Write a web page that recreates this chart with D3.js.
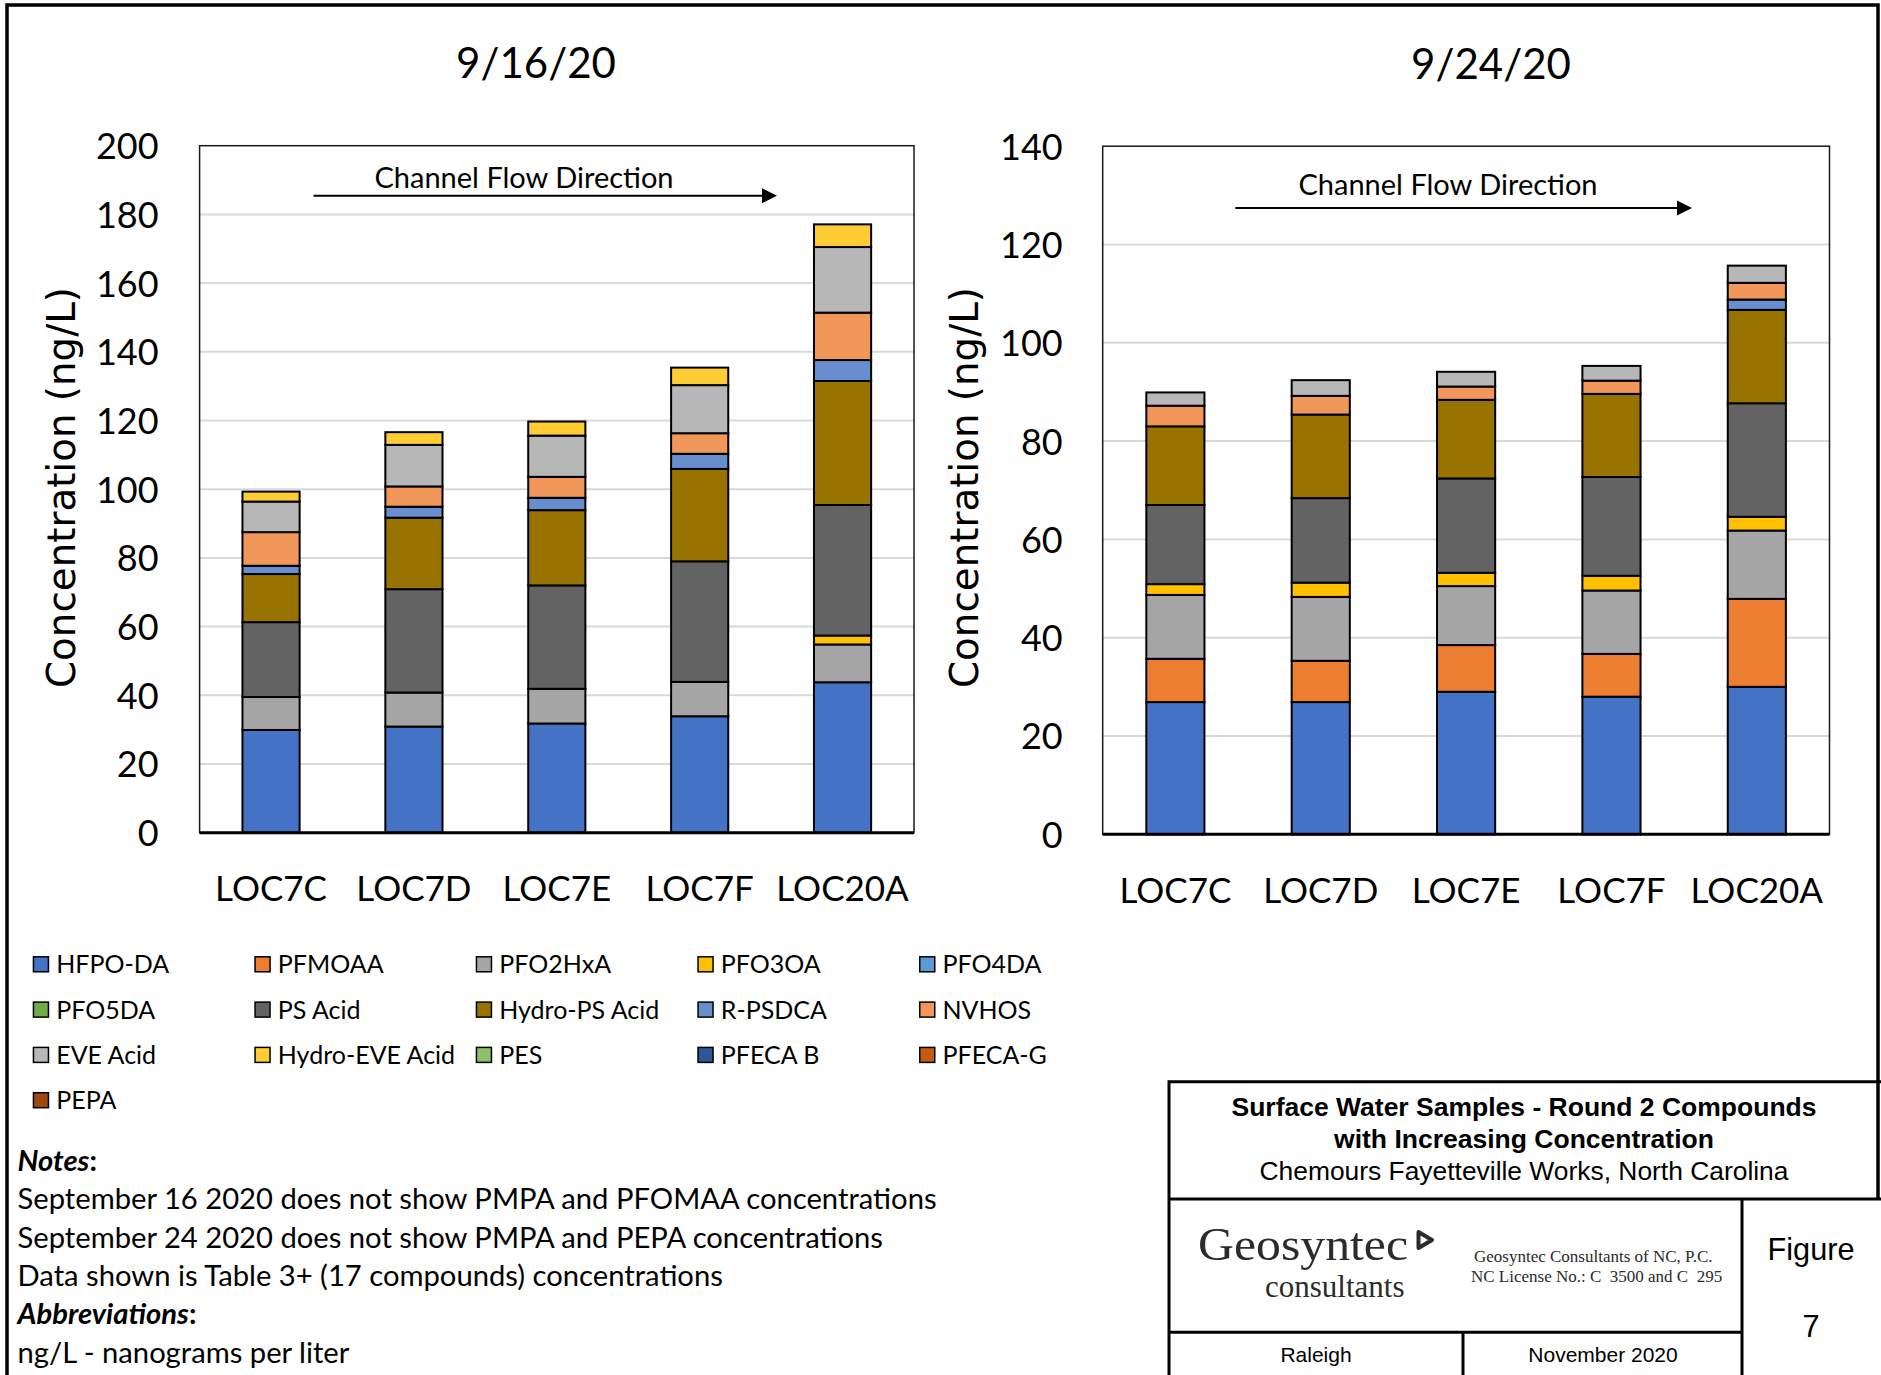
<!DOCTYPE html>
<html><head><meta charset="utf-8">
<script src="https://cdn.jsdelivr.net/npm/d3@7"></script>
<style>body{margin:0;background:#fff}svg{display:block}</style>
</head><body>
<svg id="c" width="1881" height="1375"></svg>
<script>
// ---------- DATA ----------
const categories = ["LOC7C", "LOC7D", "LOC7E", "LOC7F", "LOC20A"];
const compounds = ["HFPO-DA", "PFMOAA", "PFO2HxA", "PFO3OA", "PFO4DA", "PFO5DA", "PS Acid", "Hydro-PS Acid",
  "R-PSDCA", "NVHOS", "EVE Acid", "Hydro-EVE Acid", "PES", "PFECA B", "PFECA-G", "PEPA"];
const compoundColors = ["#4472C4", "#ED7D31", "#A5A5A5", "#FFC000", "#5B9BD5", "#70AD47", "#636363", "#997300",
  "#698ED0", "#F1975A", "#B7B7B7", "#FFCD33", "#8CC168", "#2F5597", "#C55A11", "#9E480E"];

// 9/16/20 concentrations (ng/L), one row per compound, columns follow categories
const sep16Values = [
  [29.9, 30.9, 31.8, 33.9, 43.8],   // HFPO-DA
  [0, 0, 0, 0, 0],                  // PFMOAA
  [9.6, 9.9, 10.1, 10.0, 11.0],     // PFO2HxA
  [0, 0, 0, 0, 2.6],                // PFO3OA
  [0, 0, 0, 0, 0],                  // PFO4DA
  [0, 0, 0, 0, 0],                  // PFO5DA
  [21.8, 30.1, 30.1, 35.1, 38.0],   // PS Acid
  [14.0, 20.8, 21.9, 26.9, 36.1],   // Hydro-PS Acid
  [2.4, 3.2, 3.6, 4.4, 6.1],        // R-PSDCA
  [9.8, 5.9, 6.1, 6.0, 13.8],       // NVHOS
  [8.9, 12.1, 12.0, 14.0, 19.1],    // EVE Acid
  [2.9, 3.7, 4.1, 5.1, 6.6],        // Hydro-EVE Acid
  [0, 0, 0, 0, 0],                  // PES
  [0, 0, 0, 0, 0],                  // PFECA B
  [0, 0, 0, 0, 0],                  // PFECA-G
  [0, 0, 0, 0, 0]                   // PEPA
];
// 9/24/20 concentrations (ng/L)
const sep24Values = [
  [26.9, 26.9, 29.0, 28.0, 30.0],   // HFPO-DA
  [8.8, 8.4, 9.5, 8.7, 17.9],       // PFMOAA
  [13.0, 13.0, 12.0, 12.9, 13.9],   // PFO2HxA
  [2.2, 2.9, 2.7, 3.0, 2.8],        // PFO3OA
  [0, 0, 0, 0, 0],                  // PFO4DA
  [0, 0, 0, 0, 0],                  // PFO5DA
  [16.1, 17.2, 19.2, 20.1, 23.1],   // PS Acid
  [16.0, 17.0, 16.0, 16.9, 19.0],   // Hydro-PS Acid
  [0, 0, 0, 0, 2.1],                // R-PSDCA
  [4.2, 3.8, 2.7, 2.7, 3.4],        // NVHOS
  [2.7, 3.2, 3.0, 3.0, 3.5],        // EVE Acid
  [0, 0, 0, 0, 0],                  // Hydro-EVE Acid
  [0, 0, 0, 0, 0],                  // PES
  [0, 0, 0, 0, 0],                  // PFECA B
  [0, 0, 0, 0, 0],                  // PFECA-G
  [0, 0, 0, 0, 0]                   // PEPA
];
const sep16Ticks = [0, 20, 40, 60, 80, 100, 120, 140, 160, 180, 200];
const sep24Ticks = [0, 20, 40, 60, 80, 100, 120, 140];
const chartTitles = ["9/16/20", "9/24/20"];
const flowLabel = "Channel Flow Direction";
const yTitle = "Concentration (ng/L)";
const notes = [
  "September 16 2020 does not show PMPA and PFOMAA concentrations",
  "September 24 2020 does not show PMPA and PEPA concentrations",
  "Data shown is Table 3+ (17 compounds) concentrations"
];
const abbreviations = ["ng/L - nanograms per liter"];

// ---------- DRAW ----------
const svg = d3.select("#c");
const SANS = "Lato, 'Open Sans', sans-serif";
const ARIAL = "'Liberation Sans', Arial, sans-serif";
const SERIF = "'Liberation Serif', 'Times New Roman', serif";

svg.append("rect").attr("width", 1881).attr("height", 1375).attr("fill", "#fff");

function drawChart(cfg) {
  const g = svg.append("g");
  const x = d3.scaleBand().domain(categories).range([cfg.x0, cfg.x1]).paddingInner(0.6).paddingOuter(0.3);
  const yMax = cfg.ticks[cfg.ticks.length - 1];
  const y = d3.scaleLinear().domain([0, yMax]).range([cfg.yBottom, cfg.yTop]);

  // gridlines
  g.append("g").selectAll("line").data(cfg.ticks.slice(1, -1)).join("line")
    .attr("x1", cfg.x0).attr("x2", cfg.x1)
    .attr("y1", d => y(d)).attr("y2", d => y(d))
    .attr("stroke", "#d9d9d9").attr("stroke-width", 2);

  // frame
  g.append("rect").attr("x", cfg.x0).attr("y", y(yMax))
    .attr("width", cfg.x1 - cfg.x0).attr("height", y(0) - y(yMax))
    .attr("fill", "none").attr("stroke", "#1a1a1a").attr("stroke-width", 1.5);

  // stacked bars
  const rows = categories.map((c, i) => {
    const o = { cat: c };
    compounds.forEach((k, j) => { o[k] = cfg.values[j][i]; });
    return o;
  });
  const series = d3.stack().keys(compounds)(rows);
  g.append("g").selectAll("g").data(series).join("g")
    .attr("fill", (d, i) => compoundColors[i])
    .selectAll("rect").data(d => d.filter(s => s[1] - s[0] > 0)).join("rect")
    .attr("x", d => x(d.data.cat))
    .attr("width", x.bandwidth())
    .attr("y", d => y(d[1]))
    .attr("height", d => y(d[0]) - y(d[1]))
    .attr("stroke", "#000").attr("stroke-width", 2);

  // bottom axis line
  g.append("line").attr("x1", cfg.x0).attr("x2", cfg.x1)
    .attr("y1", y(0)).attr("y2", y(0)).attr("stroke", "#000").attr("stroke-width", 3);

  // y axis labels
  const ya = g.append("g").attr("transform", `translate(${cfg.x0},0)`)
    .call(d3.axisLeft(y).tickValues(cfg.ticks).tickSize(0).tickPadding(cfg.tickPad).tickFormat(d3.format("d")));
  ya.select(".domain").remove();
  ya.selectAll("text").attr("font-family", SANS).attr("font-size", 36).attr("fill", "#000").attr("dy", "0.36em");

  // x axis labels
  const xa = g.append("g").attr("transform", `translate(0,${y(0)})`)
    .call(d3.axisBottom(x).tickSize(0).tickPadding(cfg.xPad));
  xa.select(".domain").remove();
  xa.selectAll("text").attr("font-family", SANS).attr("font-size", 35).attr("fill", "#000");

  // title
  g.append("text").attr("x", cfg.titleX).attr("y", cfg.titleY).attr("text-anchor", "middle")
    .attr("font-family", SANS).attr("font-size", 42).text(cfg.title);

  // y title
  g.append("text").attr("transform", `translate(${cfg.yTitleX},${cfg.yTitleY}) rotate(-90)`)
    .attr("text-anchor", "middle").attr("font-family", "'DejaVu Sans', Verdana, sans-serif")
    .attr("font-size", 38.8).text(yTitle);

  // flow direction
  g.append("text").attr("x", cfg.flowX).attr("y", cfg.flowY).attr("text-anchor", "middle")
    .attr("font-family", SANS).attr("font-size", 29).text(flowLabel);
  g.append("line").attr("x1", cfg.arrowX0).attr("x2", cfg.arrowX1 - 12)
    .attr("y1", cfg.arrowY).attr("y2", cfg.arrowY).attr("stroke", "#000").attr("stroke-width", 2);
  g.append("path")
    .attr("d", `M${cfg.arrowX1 - 15},${cfg.arrowY - 7.5}L${cfg.arrowX1},${cfg.arrowY}L${cfg.arrowX1 - 15},${cfg.arrowY + 7.5}Z`)
    .attr("fill", "#000");
}

drawChart({
  values: sep16Values, ticks: sep16Ticks, title: chartTitles[0],
  x0: 199.6, x1: 914, yBottom: 832.7, yTop: 145.7, tickPad: 41, xPad: 43,
  titleX: 536, titleY: 77.5, yTitleX: 75, yTitleY: 487.5,
  flowX: 524, flowY: 188, arrowX0: 313.5, arrowX1: 777, arrowY: 195.7
});
drawChart({
  values: sep24Values, ticks: sep24Ticks, title: chartTitles[1],
  x0: 1102.7, x1: 1829.5, yBottom: 834.3, yTop: 146.2, tickPad: 40, xPad: 44,
  titleX: 1491, titleY: 79, yTitleX: 978, yTitleY: 487.5,
  flowX: 1448, flowY: 195, arrowX0: 1235.3, arrowX1: 1692, arrowY: 208
});

// ---------- LEGEND ----------
const legend = svg.append("g");
const colX = [32.7, 254.3, 475.7, 697.3, 919];
const rowY = [973.3, 1018.6, 1063.9, 1109.2];
legend.selectAll("g").data(compounds).join("g")
  .attr("transform", (d, i) => `translate(${colX[i % 5]},${rowY[Math.floor(i / 5)]})`)
  .each(function (d, i) {
    const gg = d3.select(this);
    gg.append("rect").attr("x", 0.75).attr("y", -16.5).attr("width", 15).attr("height", 15)
      .attr("fill", compoundColors[i]).attr("stroke", "#000").attr("stroke-width", 1.5);
    gg.append("text").attr("x", 23.5).attr("y", 0).attr("font-family", SANS).attr("font-size", 25).text(d);
  });

// ---------- NOTES ----------
const nt = svg.append("g").attr("font-family", SANS).attr("font-size", 29.2);
const noteHead = nt.append("text").attr("x", 17.5).attr("y", 1171);
noteHead.append("tspan").attr("font-weight", "bold").attr("font-style", "italic").text("Notes");
noteHead.append("tspan").attr("font-weight", "bold").text(":");
notes.forEach((t, i) => nt.append("text").attr("x", 17.5).attr("y", 1209.3 + i * 38.4).text(t));
const abHead = nt.append("text").attr("x", 17.5).attr("y", 1324.3);
abHead.append("tspan").attr("font-weight", "bold").attr("font-style", "italic").text("Abbreviations");
abHead.append("tspan").attr("font-weight", "bold").text(":");
abbreviations.forEach((t, i) => nt.append("text").attr("x", 17.5).attr("y", 1362.7 + i * 38.4).text(t));

// ---------- PAGE BORDER ----------
const bd = svg.append("g").attr("stroke", "#000").attr("fill", "none");
bd.append("path").attr("d", "M7,1375V5H1878V1199").attr("stroke-width", 3.5);

// ---------- TITLE BLOCK ----------
const tb = svg.append("g");
const tl = tb.append("g").attr("stroke", "#000").attr("stroke-width", 3).attr("fill", "none");
tl.append("path").attr("d", "M1169,1375V1081.7H1881");
tl.append("path").attr("d", "M1169,1199H1881");
tl.append("path").attr("d", "M1742,1199V1375");
tl.append("path").attr("d", "M1169,1332.3H1742");
tl.append("path").attr("d", "M1463,1332.3V1375");

const tt = tb.append("g").attr("font-family", ARIAL).attr("text-anchor", "middle").attr("fill", "#000");
tt.append("text").attr("x", 1524).attr("y", 1115.5).attr("font-size", 26.5).attr("font-weight", "bold")
  .text("Surface Water Samples - Round 2 Compounds");
tt.append("text").attr("x", 1524).attr("y", 1148).attr("font-size", 26.5).attr("font-weight", "bold")
  .text("with Increasing Concentration");
tt.append("text").attr("x", 1524).attr("y", 1180).attr("font-size", 26.4)
  .text("Chemours Fayetteville Works, North Carolina");
tt.append("text").attr("x", 1316).attr("y", 1362).attr("font-size", 21).text("Raleigh");
tt.append("text").attr("x", 1603).attr("y", 1362).attr("font-size", 21).text("November 2020");
tt.append("text").attr("x", 1811).attr("y", 1260).attr("font-size", 30.7).text("Figure");
tt.append("text").attr("x", 1811).attr("y", 1337).attr("font-size", 30.7).text("7");

// logo
tb.append("text").attr("x", 1198).attr("y", 1260).attr("font-family", SERIF).attr("font-size", 47)
  .attr("fill", "#2b2b2b").attr("textLength", 210).attr("lengthAdjust", "spacingAndGlyphs").text("Geosyntec");
tb.append("path").attr("d", "M1418.5,1232L1432,1240L1418.5,1248Z").attr("fill", "none")
  .attr("stroke", "#2b2b2b").attr("stroke-width", 4).attr("stroke-linejoin", "round");
tb.append("text").attr("x", 1265).attr("y", 1297).attr("font-family", SERIF).attr("font-size", 31)
  .attr("fill", "#2b2b2b").text("consultants");
tb.append("text").attr("x", 1474).attr("y", 1262).attr("font-family", SERIF).attr("font-size", 17)
  .attr("fill", "#2b2b2b").text("Geosyntec Consultants of NC, P.C.");
tb.append("text").attr("x", 1471).attr("y", 1282).attr("font-family", SERIF).attr("font-size", 17)
  .attr("fill", "#2b2b2b").text("NC License No.: C  3500 and C  295").attr("xml:space", "preserve")
  .style("white-space", "pre");
</script>
</body></html>
